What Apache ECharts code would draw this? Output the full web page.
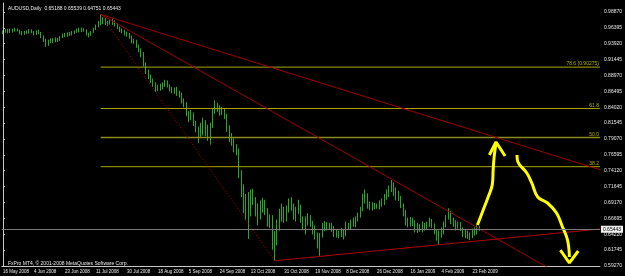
<!DOCTYPE html>
<html>
<head>
<meta charset="utf-8">
<title>AUDUSD Daily</title>
<script src="https://cdn.jsdelivr.net/npm/echarts@6/dist/echarts.min.js"></script>
<style>
	html, body { margin: 0; padding: 0; background: #000; }
	#main { width: 625px; height: 276px; }
</style>
</head>
<body>
<div id="main"></div>
<script>
// 日K数据 [open, close, low, high]，2008-05-16 起
var ohlc = [
	[0.9560, 0.9585, 0.9540, 0.9600], [0.9585, 0.9600, 0.9565, 0.9620], [0.9600, 0.9580, 0.9555, 0.9625],
	[0.9580, 0.9610, 0.9560, 0.9630], [0.9610, 0.9590, 0.9565, 0.9625], [0.9590, 0.9620, 0.9580, 0.9640],
	[0.9620, 0.9600, 0.9585, 0.9630], [0.9600, 0.9560, 0.9540, 0.9610], [0.9560, 0.9545, 0.9525, 0.9590],
	[0.9545, 0.9575, 0.9530, 0.9590], [0.9575, 0.9565, 0.9545, 0.9600], [0.9565, 0.9600, 0.9550, 0.9620],
	[0.9600, 0.9575, 0.9555, 0.9615], [0.9575, 0.9545, 0.9520, 0.9590], [0.9545, 0.9580, 0.9530, 0.9600],
	[0.9580, 0.9560, 0.9540, 0.9610], [0.9560, 0.9500, 0.9480, 0.9575], [0.9500, 0.9440, 0.9420, 0.9520],
	[0.9440, 0.9395, 0.9345, 0.9470], [0.9395, 0.9420, 0.9360, 0.9455], [0.9420, 0.9450, 0.9400, 0.9475],
	[0.9450, 0.9430, 0.9405, 0.9480], [0.9430, 0.9470, 0.9415, 0.9490], [0.9470, 0.9450, 0.9420, 0.9485],
	[0.9450, 0.9495, 0.9435, 0.9510], [0.9495, 0.9530, 0.9480, 0.9550], [0.9530, 0.9515, 0.9495, 0.9560],
	[0.9515, 0.9550, 0.9500, 0.9570], [0.9550, 0.9535, 0.9510, 0.9575], [0.9535, 0.9570, 0.9520, 0.9590],
	[0.9570, 0.9580, 0.9545, 0.9600], [0.9580, 0.9610, 0.9560, 0.9630], [0.9610, 0.9590, 0.9570, 0.9640],
	[0.9590, 0.9620, 0.9575, 0.9645], [0.9620, 0.9600, 0.9580, 0.9635], [0.9600, 0.9545, 0.9520, 0.9615],
	[0.9545, 0.9530, 0.9490, 0.9565], [0.9530, 0.9575, 0.9515, 0.9590], [0.9575, 0.9620, 0.9560, 0.9640],
	[0.9620, 0.9665, 0.9605, 0.9690], [0.9665, 0.9720, 0.9650, 0.9745], [0.9720, 0.9760, 0.9680, 0.9849],
	[0.9760, 0.9740, 0.9700, 0.9810], [0.9740, 0.9700, 0.9680, 0.9790], [0.9700, 0.9715, 0.9670, 0.9750],
	[0.9715, 0.9745, 0.9690, 0.9770], [0.9745, 0.9720, 0.9685, 0.9785], [0.9720, 0.9690, 0.9660, 0.9755],
	[0.9690, 0.9640, 0.9620, 0.9710], [0.9640, 0.9600, 0.9575, 0.9660], [0.9600, 0.9590, 0.9555, 0.9630],
	[0.9590, 0.9550, 0.9520, 0.9610], [0.9550, 0.9540, 0.9500, 0.9580], [0.9540, 0.9500, 0.9470, 0.9560],
	[0.9500, 0.9430, 0.9400, 0.9520], [0.9430, 0.9440, 0.9390, 0.9470], [0.9440, 0.9360, 0.9330, 0.9455],
	[0.9360, 0.9300, 0.9260, 0.9380], [0.9300, 0.9240, 0.9180, 0.9320], [0.9240, 0.9080, 0.9040, 0.9260],
	[0.9080, 0.8960, 0.8920, 0.9100], [0.8960, 0.8880, 0.8840, 0.8990], [0.8880, 0.8830, 0.8780, 0.8910],
	[0.8830, 0.8760, 0.8720, 0.8850], [0.8760, 0.8680, 0.8640, 0.8790], [0.8680, 0.8720, 0.8650, 0.8750],
	[0.8720, 0.8700, 0.8660, 0.8770], [0.8700, 0.8760, 0.8680, 0.8790], [0.8760, 0.8800, 0.8720, 0.8830],
	[0.8800, 0.8740, 0.8710, 0.8820], [0.8740, 0.8690, 0.8650, 0.8760], [0.8690, 0.8650, 0.8620, 0.8720],
	[0.8650, 0.8690, 0.8610, 0.8710], [0.8690, 0.8620, 0.8580, 0.8720], [0.8620, 0.8600, 0.8550, 0.8660],
	[0.8600, 0.8500, 0.8460, 0.8630], [0.8500, 0.8450, 0.8400, 0.8540], [0.8450, 0.8300, 0.8260, 0.8480],
	[0.8300, 0.8250, 0.8170, 0.8340], [0.8250, 0.8290, 0.8200, 0.8360], [0.8290, 0.8150, 0.8110, 0.8320],
	[0.8150, 0.8060, 0.8010, 0.8190], [0.8060, 0.7960, 0.7850, 0.8100], [0.7960, 0.8120, 0.7940, 0.8160],
	[0.8120, 0.8050, 0.7960, 0.8240], [0.8050, 0.8080, 0.7950, 0.8200], [0.8080, 0.7980, 0.7880, 0.8130],
	[0.7980, 0.8120, 0.7820, 0.8160], [0.8120, 0.8320, 0.8080, 0.8380], [0.8320, 0.8430, 0.8300, 0.8510],
	[0.8430, 0.8380, 0.8330, 0.8470], [0.8380, 0.8320, 0.8270, 0.8430], [0.8320, 0.8360, 0.8280, 0.8410],
	[0.8360, 0.8260, 0.8220, 0.8390], [0.8260, 0.8080, 0.8020, 0.8300], [0.8080, 0.7930, 0.7860, 0.8120],
	[0.7930, 0.7880, 0.7800, 0.8000], [0.7880, 0.7760, 0.7700, 0.7920], [0.7760, 0.7720, 0.7650, 0.7830],
	[0.7720, 0.7360, 0.7300, 0.7760], [0.7360, 0.7100, 0.7000, 0.7420], [0.7100, 0.6950, 0.6750, 0.7200],
	[0.6950, 0.6800, 0.6650, 0.7050], [0.6800, 0.6750, 0.6350, 0.7080], [0.6750, 0.7050, 0.6700, 0.7120],
	[0.7050, 0.6950, 0.6880, 0.7130], [0.6950, 0.6760, 0.6700, 0.7000], [0.6760, 0.6850, 0.6560, 0.6900],
	[0.6850, 0.6800, 0.6650, 0.6950], [0.6800, 0.6920, 0.6760, 0.6990], [0.6920, 0.6780, 0.6720, 0.6960],
	[0.6780, 0.6600, 0.6540, 0.6830], [0.6600, 0.6680, 0.6520, 0.6730], [0.6680, 0.6420, 0.6180, 0.6720],
	[0.6420, 0.6300, 0.6008, 0.6470], [0.6300, 0.6550, 0.6250, 0.6650], [0.6550, 0.6720, 0.6480, 0.6820],
	[0.6720, 0.6780, 0.6620, 0.6900], [0.6780, 0.6650, 0.6600, 0.6850], [0.6650, 0.6800, 0.6620, 0.6870],
	[0.6800, 0.6930, 0.6760, 0.6980], [0.6930, 0.6850, 0.6790, 0.7000], [0.6850, 0.6700, 0.6650, 0.6900],
	[0.6700, 0.6780, 0.6620, 0.6850], [0.6780, 0.6860, 0.6740, 0.6960], [0.6860, 0.6660, 0.6600, 0.6880],
	[0.6660, 0.6550, 0.6490, 0.6700], [0.6550, 0.6620, 0.6420, 0.6700], [0.6620, 0.6680, 0.6560, 0.6750],
	[0.6680, 0.6590, 0.6540, 0.6720], [0.6590, 0.6500, 0.6420, 0.6630], [0.6500, 0.6380, 0.6340, 0.6560],
	[0.6380, 0.6250, 0.6200, 0.6450], [0.6250, 0.6400, 0.6085, 0.6440], [0.6400, 0.6520, 0.6370, 0.6600],
	[0.6520, 0.6580, 0.6470, 0.6630], [0.6580, 0.6530, 0.6480, 0.6610], [0.6530, 0.6570, 0.6500, 0.6600],
	[0.6570, 0.6520, 0.6460, 0.6600], [0.6520, 0.6420, 0.6380, 0.6550], [0.6420, 0.6450, 0.6370, 0.6500],
	[0.6450, 0.6420, 0.6360, 0.6480], [0.6420, 0.6460, 0.6380, 0.6520], [0.6460, 0.6400, 0.6340, 0.6490],
	[0.6400, 0.6550, 0.6390, 0.6620], [0.6550, 0.6530, 0.6490, 0.6600], [0.6530, 0.6620, 0.6500, 0.6650],
	[0.6620, 0.6580, 0.6540, 0.6680], [0.6580, 0.6650, 0.6530, 0.6700], [0.6650, 0.6720, 0.6620, 0.6760],
	[0.6720, 0.6800, 0.6680, 0.6850], [0.6800, 0.6980, 0.6780, 0.7050], [0.6980, 0.7020, 0.6900, 0.7120],
	[0.7020, 0.6850, 0.6820, 0.7060], [0.6850, 0.6880, 0.6800, 0.6930], [0.6880, 0.6830, 0.6790, 0.6920],
	[0.6830, 0.6870, 0.6810, 0.6910], [0.6870, 0.6850, 0.6820, 0.6900], [0.6850, 0.6900, 0.6810, 0.6950],
	[0.6900, 0.6920, 0.6850, 0.6980], [0.6920, 0.7000, 0.6880, 0.7050], [0.7000, 0.7080, 0.6960, 0.7120],
	[0.7080, 0.7120, 0.7000, 0.7180], [0.7120, 0.7200, 0.7080, 0.7268], [0.7200, 0.7080, 0.7020, 0.7230],
	[0.7080, 0.7050, 0.6950, 0.7150], [0.7050, 0.7000, 0.6940, 0.7100], [0.7000, 0.6880, 0.6830, 0.7020],
	[0.6880, 0.6750, 0.6700, 0.6900], [0.6750, 0.6620, 0.6560, 0.6800], [0.6620, 0.6580, 0.6530, 0.6680],
	[0.6580, 0.6650, 0.6540, 0.6690], [0.6650, 0.6600, 0.6550, 0.6680], [0.6600, 0.6480, 0.6450, 0.6640],
	[0.6480, 0.6530, 0.6440, 0.6600], [0.6530, 0.6500, 0.6460, 0.6580], [0.6500, 0.6560, 0.6450, 0.6620],
	[0.6560, 0.6520, 0.6480, 0.6600], [0.6520, 0.6580, 0.6490, 0.6620], [0.6580, 0.6630, 0.6540, 0.6680],
	[0.6630, 0.6560, 0.6520, 0.6660], [0.6560, 0.6460, 0.6420, 0.6590], [0.6460, 0.6380, 0.6320, 0.6500],
	[0.6380, 0.6420, 0.6254, 0.6480], [0.6420, 0.6450, 0.6370, 0.6530], [0.6450, 0.6560, 0.6420, 0.6620],
	[0.6560, 0.6680, 0.6530, 0.6720], [0.6680, 0.6760, 0.6650, 0.6827], [0.6760, 0.6620, 0.6580, 0.6790],
	[0.6620, 0.6600, 0.6540, 0.6680], [0.6600, 0.6540, 0.6480, 0.6640], [0.6540, 0.6580, 0.6510, 0.6620],
	[0.6580, 0.6500, 0.6470, 0.6610], [0.6500, 0.6420, 0.6380, 0.6530], [0.6420, 0.6440, 0.6360, 0.6490],
	[0.6440, 0.6400, 0.6350, 0.6480], [0.6400, 0.6380, 0.6330, 0.6450], [0.6380, 0.6470, 0.6360, 0.6510],
	[0.6470, 0.6440, 0.6400, 0.6530], [0.6440, 0.6519, 0.6420, 0.6570], [0.65188, 0.65443, 0.64751, 0.65539]
];

// x轴刻度日期
var tickLabels = ['16 May 2008', '4 Jun 2008', '23 Jun 2008', '11 Jul 2008', '30 Jul 2008', '18 Aug 2008',
	'5 Sep 2008', '24 Sep 2008', '13 Oct 2008', '31 Oct 2008', '19 Nov 2008', '8 Dec 2008', '26 Dec 2008',
	'16 Jan 2009', '4 Feb 2009', '23 Feb 2009'];
var holidays = ['2008-07-04', '2008-09-01', '2008-12-25', '2009-01-01'];
var startDate = '2008-05-16';
var slotCount = 251; // 右侧留白

// y轴刻度
var yMin = 0.59270;
var yMax = 1.00270;
var yStep = 0.02475;

// 斐波那契
var fibStartIdx = 41;
var fibLevels = [0.90275, 0.83818, 0.79285, 0.74752];
var fibNames = ['78.6 (0.90275)', '61.8', '50.0', '38.2'];

// 趋势线 [index, price]
var trendTop = [[41, 0.9849], [250.5, 0.7428]];
var trendMid = [[41, 0.9849], [250.5, 0.5443]];
var trendDot = [[41, 0.9849], [114, 0.6008]];
var trendLow = [[114, 0.6008], [250.5, 0.6504]];

// 手绘箭头
var arrowUp = [[199.1, 0.6566], [201.2, 0.6769], [203.6, 0.7003], [205.3, 0.7190], [205.7, 0.7424], [206.1, 0.7626], [206.9, 0.7845]];
var arrowUpHead = [[204.1, 0.7657], [206.9, 0.7860], [210.7, 0.7642]];
var arrowDown = [[215.7, 0.7657], [216.1, 0.7548], [219.8, 0.7377], [221.9, 0.7221], [224.4, 0.7003], [228.5, 0.6909],
	[232.3, 0.6753], [234.8, 0.6535], [236.9, 0.6332], [237.7, 0.6067]];
var arrowDownHead = [[233.9, 0.6176], [237.7, 0.5974], [241.4, 0.6161]];

var lastPrice = 0.65443;
var titleText = 'AUDUSD,Daily  0.65188 0.65539 0.64751 0.65443';
var copyText = 'FxPro MT4, \u00a9 2001-2008 MetaQuotes Software Corp.';

// 生成交易日
var months = ['Jan', 'Feb', 'Mar', 'Apr', 'May', 'Jun', 'Jul', 'Aug', 'Sep', 'Oct', 'Nov', 'Dec'];
var categories = [];
var d = new Date(startDate + 'T00:00:00Z');
while (categories.length < slotCount) {
	var iso = d.toISOString().slice(0, 10);
	var wd = d.getUTCDay();
	if (wd != 0 && wd != 6 && holidays.indexOf(iso) < 0) {
		categories.push(d.getUTCDate() + ' ' + months[d.getUTCMonth()] + ' ' + d.getUTCFullYear());
	}
	d.setUTCDate(d.getUTCDate() + 1);
}

var FONT = 'Liberation Sans';
var isTick = function(index, value) {
	return tickLabels.indexOf(value) >= 0;
};

function lineSerie(data, color, width, type, smooth) {
	return {
		type: 'line',
		xAxisIndex: 1,
		data: data,
		symbol: 'none',
		smooth: smooth || false,
		clip: true,
		silent: true,
		lineStyle: { color: color, width: width, type: type || 'solid' },
		z: 3
	};
}

var series = [];
series.push({
	type: 'candlestick',
	data: ohlc,
	barWidth: 1,
	itemStyle: {
		color: '#20ac20',
		color0: '#20ac20',
		borderColor: '#20ac20',
		borderColor0: '#20ac20',
		borderWidth: 1
	},
	markLine: {
		silent: true,
		symbol: 'none',
		lineStyle: { color: '#7a7a7a', width: 1, type: 'solid' },
		label: {
			position: 'end',
			distance: 1,
			formatter: lastPrice.toFixed(5),
			color: '#000',
			backgroundColor: '#f0f0f0',
			fontSize: 5,
			fontFamily: FONT,
			padding: [1, 2, 1, 2]
		},
		data: [{ yAxis: lastPrice }]
	},
	z: 2
});

// 斐波那契水平线
for (var i = 0; i < fibLevels.length; i++) {
	var s = lineSerie([[fibStartIdx, fibLevels[i]], {
		value: [250.5, fibLevels[i]],
		label: {
			show: true,
			position: 'left',
			distance: 1,
			offset: [0, -3],
			formatter: fibNames[i],
			color: '#b0b000',
			fontSize: 5,
			fontFamily: FONT
		}
	}], i == 2 ? '#8a8a1c' : '#a8a800', i == 2 ? 1.5 : 1);
	s.symbol = 'circle';
	s.symbolSize = 0;
	s.showSymbol = true;
	series.push(s);
}

series.push(lineSerie(trendTop, '#a00000', 1));
series.push(lineSerie(trendMid, '#a00000', 1));
series.push(lineSerie(trendDot, '#c00000', 1, [1, 2]));
series.push(lineSerie(trendLow, '#b00000', 1));
series.push(lineSerie(arrowUp, '#ffff00', 3, 'solid', 0.4));
series.push(lineSerie(arrowUpHead, '#ffff00', 3));
series.push(lineSerie(arrowDown, '#ffff00', 3, 'solid', 0.4));
series.push(lineSerie(arrowDownHead, '#ffff00', 3));

var myChart = echarts.init(document.getElementById('main'));
var option = {
	backgroundColor: '#000',
	animation: false,
	title: [{
		text: titleText,
		left: 3, top: 1,
		textStyle: { color: '#e8e8e8', fontSize: 5, fontWeight: 'normal', fontFamily: FONT }
	}, {
		text: copyText,
		left: 3, top: 256,
		textStyle: { color: '#e8e8e8', fontSize: 5, fontWeight: 'normal', fontFamily: FONT }
	}],
	grid: { left: 1, right: 19, top: 3, bottom: 10 },
	xAxis: [{
		type: 'category',
		data: categories,
		boundaryGap: true,
		axisLine: { lineStyle: { color: '#c8c8c8' } },
		axisTick: { interval: isTick, alignWithLabel: true, length: 2, lineStyle: { color: '#c8c8c8' } },
		axisLabel: {
			interval: isTick,
			showMinLabel: true,
			align: 'left',
			margin: 3,
			color: '#e8e8e8',
			fontSize: 4.5,
			fontFamily: FONT
		},
		splitLine: { show: false }
	}, {
		type: 'value',
		min: -0.5,
		max: slotCount - 0.5,
		show: false
	}],
	yAxis: {
		type: 'value',
		position: 'right',
		min: yMin,
		max: yMax,
		interval: yStep,
		axisLine: { show: true, lineStyle: { color: '#c8c8c8' } },
		axisTick: { show: true, length: 2, lineStyle: { color: '#c8c8c8' } },
		axisLabel: {
			showMaxLabel: false,
			margin: 4,
			color: '#e8e8e8',
			fontSize: 5,
			fontFamily: FONT,
			formatter: function(v) { return v.toFixed(5); }
		},
		splitLine: { show: false }
	},
	series: series
};
myChart.setOption(option);
</script>
</body>
</html>
